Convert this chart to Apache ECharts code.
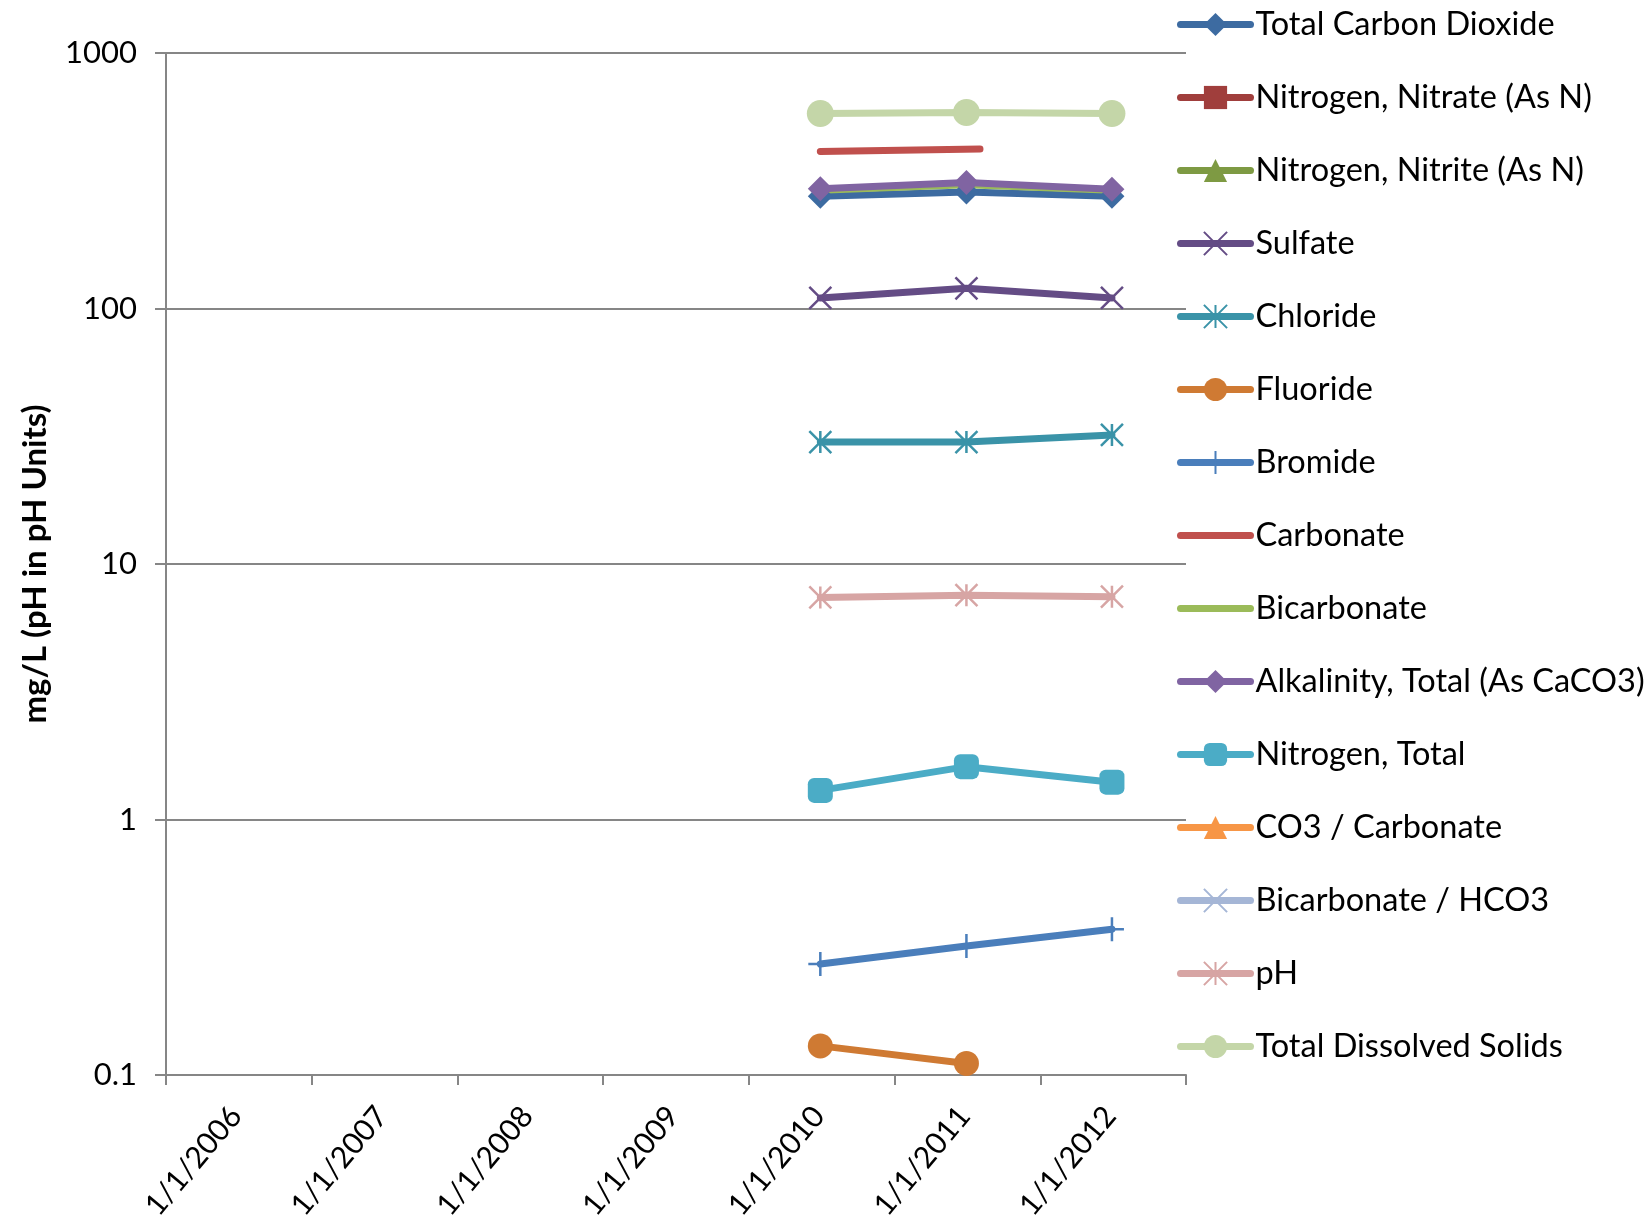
<!DOCTYPE html>
<html>
<head>
<meta charset="utf-8">
<script src="https://cdn.jsdelivr.net/npm/echarts@6/dist/echarts.min.js"></script>
<style>
  html, body { margin: 0; padding: 0; background: #fff; }
  #chart { width: 1650px; height: 1220px; }
</style>
</head>
<body>
<div id="chart"></div>
<script>
const sampleDates = ['2010-06-29', '2011-06-30', '2012-06-29'];
const carbonateDates = ['2010-06-29', '2011-08-03'];
const yearTicks = [2006, 2007, 2008, 2009, 2010, 2011, 2012];

// values in mg/L (pH in pH units)
const totalCarbonDioxide = [275, 286, 275];
const nitrogenNitrate = [];
const nitrogenNitrite = [];
const sulfate = [110, 120, 110];
const chloride = [30, 30, 32];
const fluoride = [0.13, 0.111];
const bromide = [0.272, 0.32, 0.372];
const carbonate = [412, 421];
const bicarbonate = [290, 305, 290];
const alkalinity = [294, 311, 293];
const nitrogenTotal = [1.3, 1.61, 1.4];
const co3Carbonate = [];
const bicarbonateHco3 = [];
const ph = [7.4, 7.55, 7.45];
const totalDissolvedSolids = [580, 585, 580];

// date string -> decimal year so the axis ticks land on 1/1 of each year
function toYear(s) {
    const [y, m, d] = s.split('-').map(Number);
    const start = Date.UTC(y, 0, 1);
    const next = Date.UTC(y + 1, 0, 1);
    return y + (Date.UTC(y, m - 1, d) - start) / (next - start);
}

// the slanted date labels sit a bit to the right of their tick, like Excel does
const LABEL_SHIFT = 0.19;

const X_PATH = 'path://M0,0L10,10M10,0L0,10';
const STAR_PATH = 'path://M0,0L10,10M10,0L0,10M5,0L5,10';
const PLUS_PATH = 'path://M5,0L5,10M0,5L10,5';

const seriesDefs = [
    { name: 'Total Carbon Dioxide', values: totalCarbonDioxide, color: '#3D6BA1', symbol: 'diamond', size: 25 },
    { name: 'Nitrogen, Nitrate (As N)', values: nitrogenNitrate, color: '#A03E3C', symbol: 'rect', size: 22 },
    { name: 'Nitrogen, Nitrite (As N)', values: nitrogenNitrite, color: '#7E9A43', symbol: 'triangle', size: 22 },
    { name: 'Sulfate', values: sulfate, color: '#644C85', symbol: X_PATH, size: 22, stroke: true },
    { name: 'Chloride', values: chloride, color: '#3A93A8', symbol: STAR_PATH, size: 22, stroke: true },
    { name: 'Fluoride', values: fluoride, color: '#CF7A33', symbol: 'circle', size: 25 },
    { name: 'Bromide', values: bromide, color: '#4A7EBB', symbol: PLUS_PATH, size: 24, stroke: true },
    { name: 'Carbonate', values: carbonate, dates: carbonateDates, color: '#C0504D', symbol: 'none' },
    { name: 'Bicarbonate', values: bicarbonate, color: '#9BBB59', symbol: 'none' },
    { name: 'Alkalinity, Total (As CaCO3)', values: alkalinity, color: '#8064A2', symbol: 'diamond', size: 25 },
    { name: 'Nitrogen, Total', values: nitrogenTotal, color: '#4BACC6', symbol: 'roundRect', size: 25 },
    { name: 'CO3 / Carbonate', values: co3Carbonate, color: '#F79646', symbol: 'triangle', size: 22 },
    { name: 'Bicarbonate / HCO3', values: bicarbonateHco3, color: '#A5B6D6', symbol: X_PATH, size: 22, stroke: true },
    { name: 'pH', values: ph, color: '#D7A5A4', symbol: STAR_PATH, size: 22, stroke: true },
    { name: 'Total Dissolved Solids', values: totalDissolvedSolids, color: '#C4D6A8', symbol: 'circle', size: 27 }
];

const chart = echarts.init(document.getElementById('chart'));

const series = seriesDefs.map(s => {
    const dates = s.dates || sampleDates;
    return {
        name: s.name,
        type: 'line',
        data: s.values.map((v, i) => [toYear(dates[i]), v]),
        symbol: s.symbol,
        symbolSize: s.size || 0,
        showAllSymbol: true,
        animation: false,
        lineStyle: { color: s.color, width: 7, cap: 'round' },
        itemStyle: {
            color: s.stroke ? 'rgba(0,0,0,0)' : s.color,
            borderColor: s.color,
            borderWidth: s.stroke ? 2.5 : 0
        },
        emphasis: { disabled: true }
    };
});

const option = {
    backgroundColor: '#fff',
    textStyle: { fontFamily: 'Lato' },
    grid: {
        left: 166,
        top: 53,
        right: 464,
        bottom: 145,
        outerBoundsMode: 'none'
    },
    legend: {
        orient: 'vertical',
        left: 1172,
        top: 3,
        itemWidth: 70,
        itemHeight: 29,
        itemGap: 40,
        lineStyle: { width: 7, cap: 'round' },
        textStyle: { fontFamily: 'Lato', fontSize: 32.5, color: '#000', lineHeight: 32 },
        data: seriesDefs.map(s => (s.symbol === 'none'
            ? { name: s.name, itemStyle: { opacity: 0 } }
            : s.name))
    },
    xAxis: {
        type: 'value',
        min: 2006,
        max: 2013,
        interval: 1,
        splitLine: { show: false },
        axisLine: { lineStyle: { color: '#868686', width: 2 } },
        axisTick: { show: true, inside: false, length: 10, lineStyle: { color: '#868686', width: 2 } },
        axisLabel: {
            rotate: 50,
            align: 'center',
            verticalAlign: 'middle',
            margin: 86,
            fontFamily: 'Lato',
            fontSize: 30,
            color: '#000',
            customValues: yearTicks.map(y => y + LABEL_SHIFT),
            formatter: v => '1/1/' + Math.floor(v)
        }
    },
    yAxis: {
        type: 'log',
        logBase: 10,
        min: 0.1,
        max: 1000,
        name: 'mg/L (pH in pH Units)',
        nameLocation: 'middle',
        nameRotate: 90,
        nameGap: 114,
        nameTextStyle: { fontFamily: 'Lato', fontSize: 33, fontWeight: 'bold', color: '#000' },
        splitLine: { show: true, lineStyle: { color: '#868686', width: 2 } },
        axisLine: { show: true, lineStyle: { color: '#868686', width: 2 } },
        axisTick: { show: true, inside: false, length: 11, lineStyle: { color: '#868686', width: 2 } },
        axisLabel: {
            margin: 29,
            fontFamily: 'Lato',
            fontSize: 31,
            color: '#000',
            formatter: v => (v < 1 ? String(Math.round(v * 10) / 10) : String(Math.round(v)))
        }
    },
    series: series
};

chart.setOption(option);
</script>
</body>
</html>
